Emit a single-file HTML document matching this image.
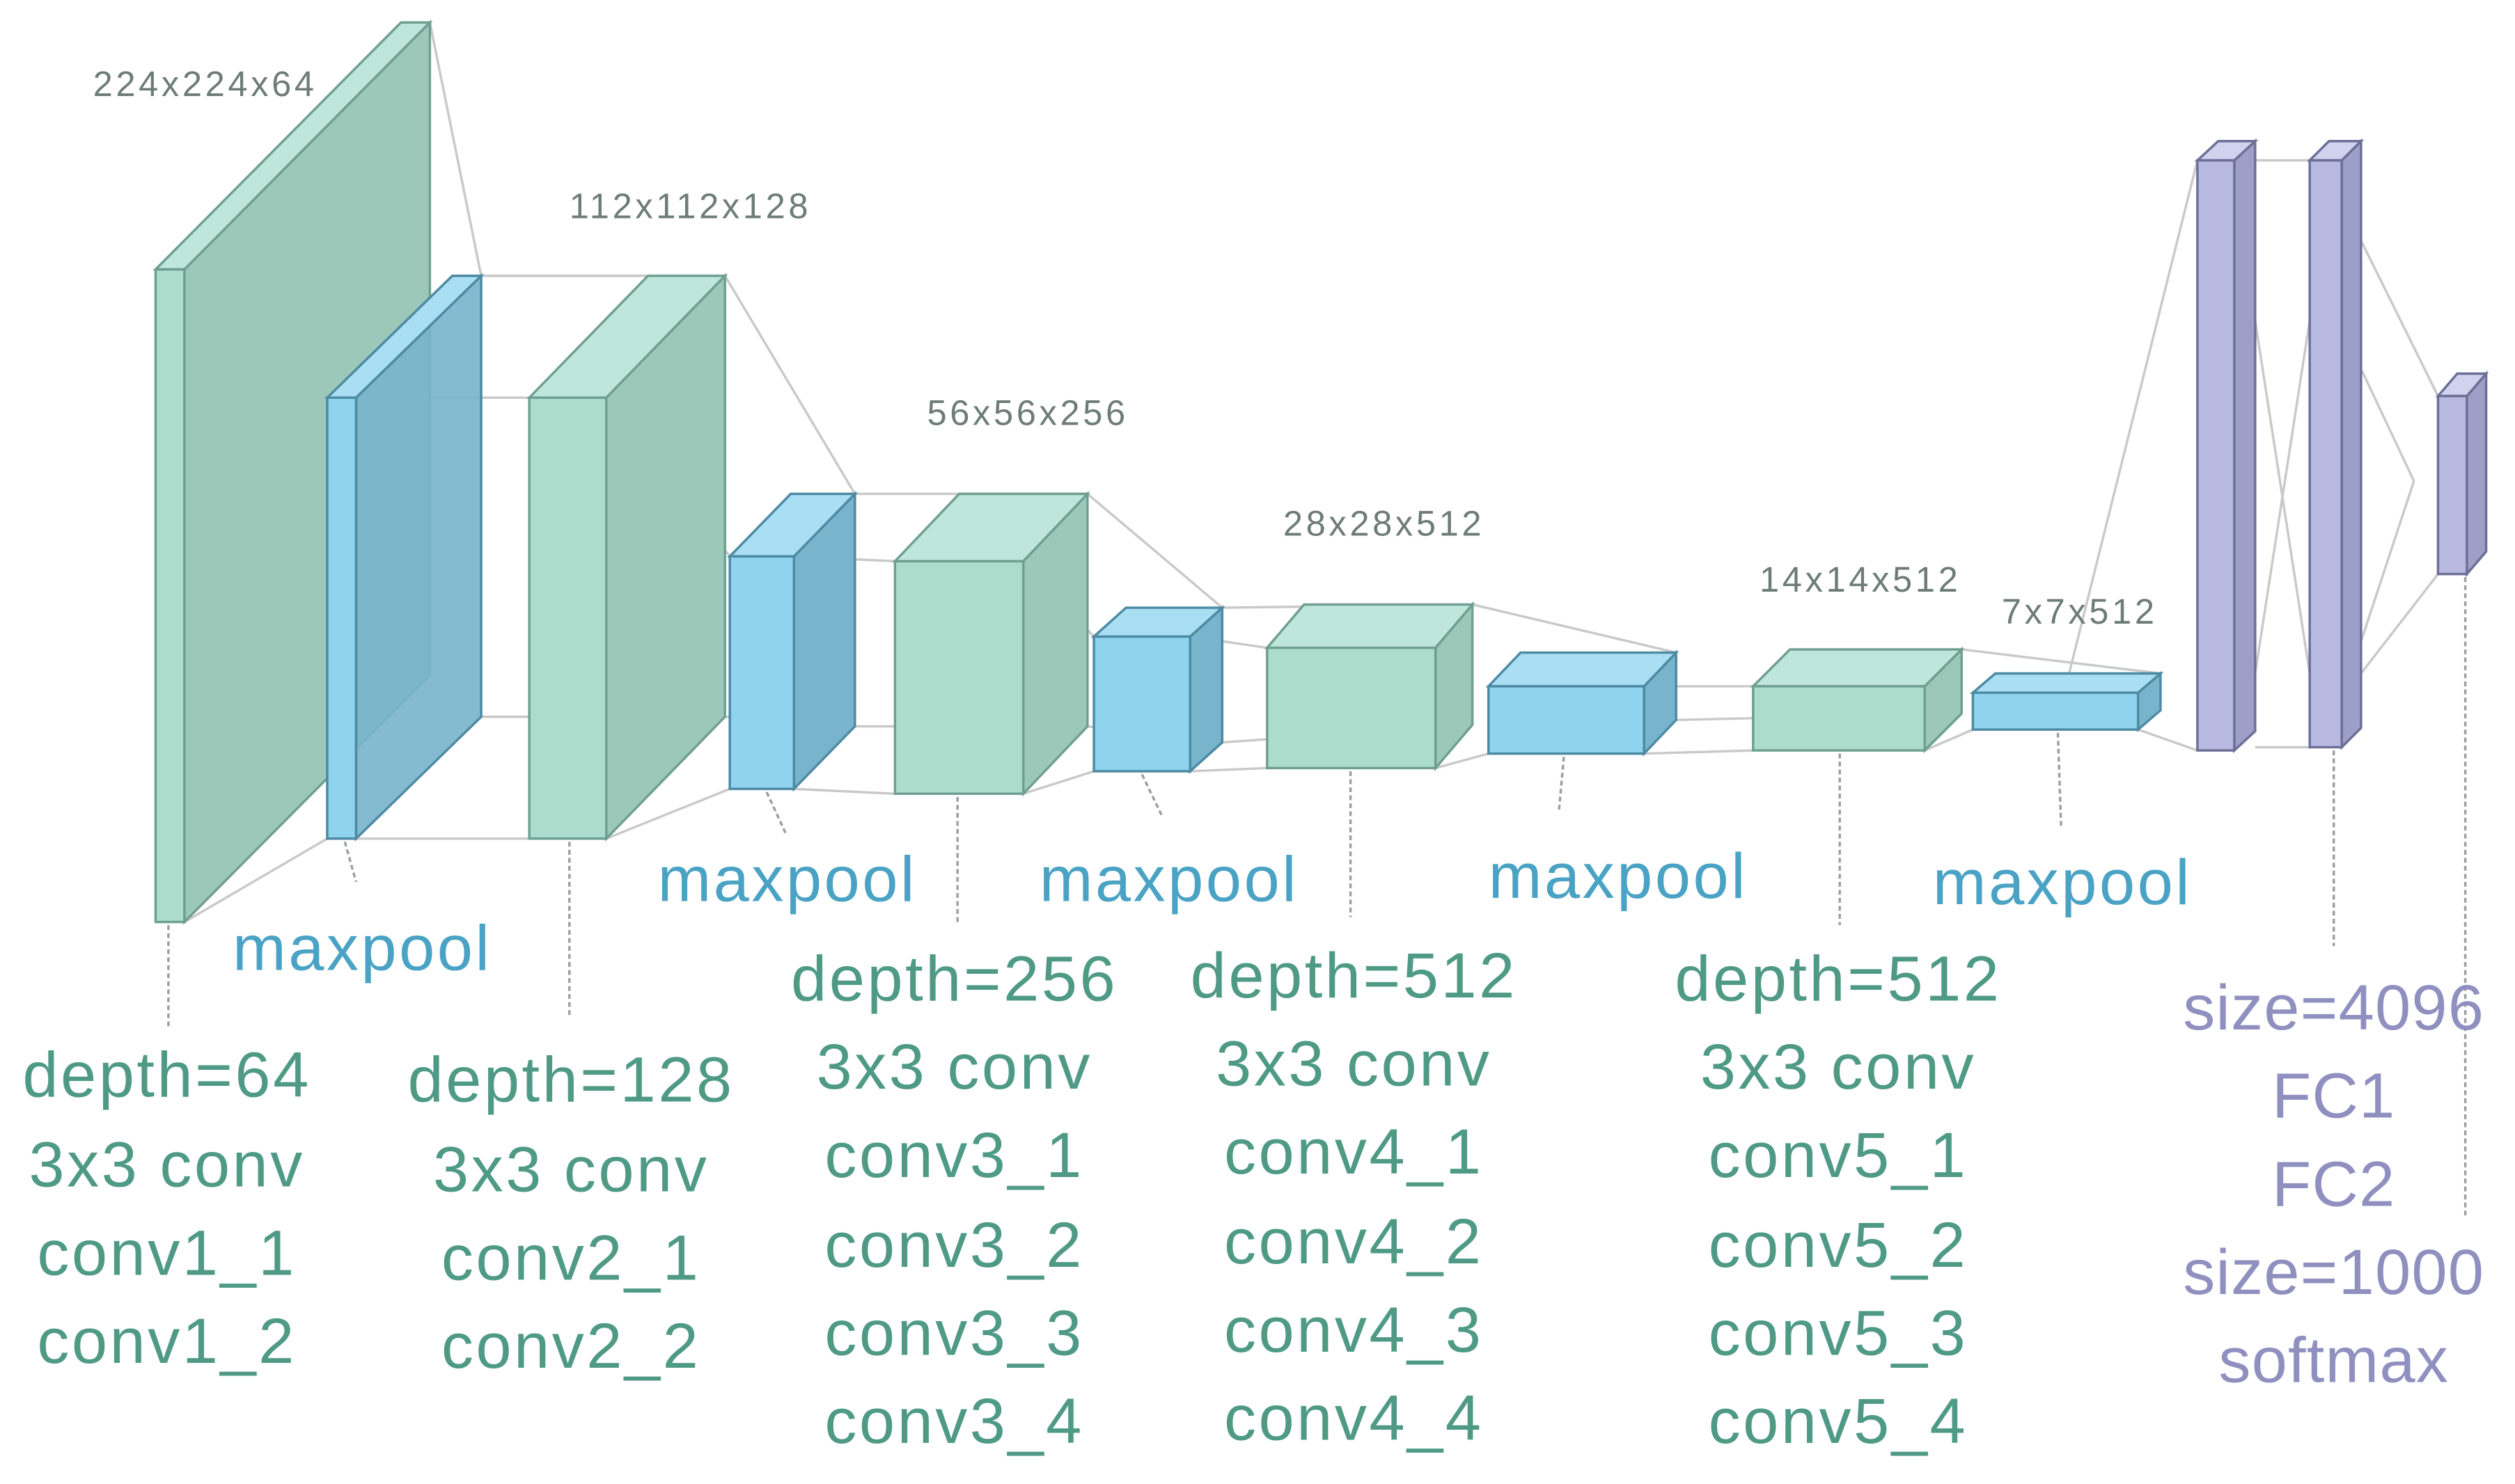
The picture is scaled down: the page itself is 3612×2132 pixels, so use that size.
<!DOCTYPE html>
<html><head><meta charset="utf-8"><style>html,body{margin:0;padding:0;background:#fff}svg{display:block}</style></head>
<body>
<svg width="3612" height="2132" viewBox="0 0 1568 925.5" xmlns="http://www.w3.org/2000/svg" font-family="Liberation Sans, DejaVu Sans, sans-serif">
<rect width="1568" height="926" fill="#fff"/>
<g stroke="#c9c9c9" stroke-width="1.5" fill="none">
<line x1="268" y1="14" x2="300" y2="172"/><line x1="115" y1="575" x2="204" y2="523"/>
<line x1="300" y1="172" x2="452" y2="172"/><line x1="222" y1="248" x2="330" y2="248"/><line x1="222" y1="523" x2="330" y2="523"/><line x1="300" y1="447" x2="452" y2="447"/>
<line x1="452" y1="172" x2="533" y2="308"/><line x1="378" y1="248" x2="455" y2="347"/><line x1="378" y1="523" x2="455" y2="492"/><line x1="452" y1="447" x2="533" y2="453"/>
<line x1="533" y1="308" x2="678" y2="308"/><line x1="495" y1="347" x2="558" y2="350"/><line x1="495" y1="492" x2="558" y2="495"/><line x1="533" y1="453" x2="678" y2="453"/>
<line x1="678" y1="308" x2="762" y2="379"/><line x1="638" y1="350" x2="682" y2="397"/><line x1="638" y1="495" x2="682" y2="481"/><line x1="678" y1="453" x2="762" y2="463"/>
<line x1="762" y1="379" x2="918" y2="377"/><line x1="742" y1="397" x2="790" y2="404"/><line x1="742" y1="481" x2="790" y2="479"/><line x1="762" y1="463" x2="918" y2="452"/>
<line x1="918" y1="377" x2="1045" y2="407"/><line x1="895" y1="479" x2="928" y2="470"/><line x1="1045" y1="449" x2="1223" y2="445"/><line x1="1025" y1="428" x2="1093" y2="428"/><line x1="1025" y1="470" x2="1093" y2="468"/>
<line x1="1223" y1="405" x2="1347" y2="420"/><line x1="1200" y1="468" x2="1230" y2="455"/>
<line x1="1290" y1="420" x2="1370" y2="100"/><line x1="1333" y1="455" x2="1370" y2="468"/>
<line x1="1406" y1="100" x2="1440" y2="100"/><line x1="1406" y1="466" x2="1440" y2="466"/><line x1="1406" y1="200" x2="1440" y2="420"/><line x1="1406" y1="420" x2="1440" y2="200"/>
<line x1="1472" y1="150" x2="1520" y2="247"/><line x1="1472" y1="420" x2="1520" y2="358"/><line x1="1472" y1="230" x2="1505" y2="300"/><line x1="1472" y1="400" x2="1505" y2="300"/>
</g>
<g stroke-width="1.5">
<g stroke="#6f9f90">
<polygon points="115,168 268,14 268,421 115,575" fill="#9cc8b9"/><polygon points="97,168 250,14 268,14 115,168" fill="#bfe6da"/><rect x="97" y="168" width="18" height="407" fill="#acdccc"/>
</g>
<g stroke="#4d8aa3">
<polygon points="222,248 300,172 300,447 222,523" fill="#78b4cc" fill-opacity="0.9"/><polygon points="204,248 282,172 300,172 222,248" fill="#a9def3"/><rect x="204" y="248" width="18" height="275" fill="#8fd3ee"/>
</g>
<g stroke="#6f9f90">
<polygon points="378,248 452,172 452,447 378,523" fill="#9cc8b9"/><polygon points="330,248 404,172 452,172 378,248" fill="#bfe6da"/><rect x="330" y="248" width="48" height="275" fill="#acdccc"/>
</g>
<g stroke="#4d8aa3">
<polygon points="495,347 533,308 533,453 495,492" fill="#78b4cc"/><polygon points="455,347 493,308 533,308 495,347" fill="#a9def3"/><rect x="455" y="347" width="40" height="145" fill="#8fd3ee"/>
</g>
<g stroke="#6f9f90">
<polygon points="638,350 678,308 678,453 638,495" fill="#9cc8b9"/><polygon points="558,350 598,308 678,308 638,350" fill="#bfe6da"/><rect x="558" y="350" width="80" height="145" fill="#acdccc"/>
</g>
<g stroke="#4d8aa3">
<polygon points="742,397 762,379 762,463 742,481" fill="#78b4cc"/><polygon points="682,397 702,379 762,379 742,397" fill="#a9def3"/><rect x="682" y="397" width="60" height="84" fill="#8fd3ee"/>
</g>
<g stroke="#6f9f90">
<polygon points="895,404 918,377 918,452 895,479" fill="#9cc8b9"/><polygon points="790,404 813,377 918,377 895,404" fill="#bfe6da"/><rect x="790" y="404" width="105" height="75" fill="#acdccc"/>
</g>
<g stroke="#4d8aa3">
<polygon points="1025,428 1045,407 1045,449 1025,470" fill="#78b4cc"/><polygon points="928,428 948,407 1045,407 1025,428" fill="#a9def3"/><rect x="928" y="428" width="97" height="42" fill="#8fd3ee"/>
</g>
<g stroke="#6f9f90">
<polygon points="1200,428 1223,405 1223,445 1200,468" fill="#9cc8b9"/><polygon points="1093,428 1116,405 1223,405 1200,428" fill="#bfe6da"/><rect x="1093" y="428" width="107" height="40" fill="#acdccc"/>
</g>
<g stroke="#4d8aa3">
<polygon points="1333,432 1347,420 1347,443 1333,455" fill="#78b4cc"/><polygon points="1230,432 1244,420 1347,420 1333,432" fill="#a9def3"/><rect x="1230" y="432" width="103" height="23" fill="#8fd3ee"/>
</g>
<g stroke="#6c6f96">
<polygon points="1393,100 1406,88 1406,456 1393,468" fill="#9d9fc8"/><polygon points="1370,100 1383,88 1406,88 1393,100" fill="#d0d2ee"/><rect x="1370" y="100" width="23" height="368" fill="#b7b9e0"/>
<polygon points="1460,100 1472,88 1472,454 1460,466" fill="#9d9fc8"/><polygon points="1440,100 1452,88 1472,88 1460,100" fill="#d0d2ee"/><rect x="1440" y="100" width="20" height="366" fill="#b7b9e0"/>
<polygon points="1538,247 1550,233 1550,344 1538,358" fill="#9d9fc8"/><polygon points="1520,247 1532,233 1550,233 1538,247" fill="#d0d2ee"/><rect x="1520" y="247" width="18" height="111" fill="#b7b9e0"/>
</g>
</g>
<g stroke="#9aa0a0" stroke-width="1.5" stroke-dasharray="3,2" fill="none">
<line x1="105" y1="577" x2="105" y2="640"/><line x1="215" y1="525" x2="222" y2="550"/>
<line x1="355" y1="525" x2="355" y2="635"/><line x1="478" y1="494" x2="490" y2="520"/>
<line x1="597" y1="497" x2="597" y2="575"/><line x1="712" y1="483" x2="725" y2="510"/>
<line x1="842" y1="481" x2="842" y2="572"/><line x1="975" y1="472" x2="972" y2="505"/>
<line x1="1147" y1="470" x2="1147" y2="577"/><line x1="1283" y1="457" x2="1285" y2="515"/>
<line x1="1455" y1="468" x2="1455" y2="590"/><line x1="1537" y1="360" x2="1537" y2="760"/>
</g>
<g fill="#6e7c78" font-size="22" letter-spacing="2">
<text x="58" y="60">224x224x64</text><text x="355" y="136">112x112x128</text><text x="578" y="265">56x56x256</text>
<text x="800" y="334">28x28x512</text><text x="1097" y="369">14x14x512</text><text x="1248" y="389">7x7x512</text>
</g>
<g fill="#4aa3c4" font-size="40" letter-spacing="1.5">
<text x="145" y="605">maxpool</text><text x="410" y="562">maxpool</text><text x="648" y="562">maxpool</text><text x="928" y="560">maxpool</text><text x="1205" y="564">maxpool</text>
</g>
<g fill="#4f9a85" font-size="40" letter-spacing="1.5" text-anchor="middle">
<text x="104" y="684">depth=64</text><text x="104" y="740">3x3 conv</text><text x="104" y="795">conv1_1</text><text x="104" y="850">conv1_2</text>
<text x="356" y="687">depth=128</text><text x="356" y="743">3x3 conv</text><text x="356" y="798">conv2_1</text><text x="356" y="853">conv2_2</text>
<text x="595" y="624">depth=256</text><text x="595" y="679">3x3 conv</text><text x="595" y="734">conv3_1</text><text x="595" y="790">conv3_2</text><text x="595" y="845">conv3_3</text><text x="595" y="900">conv3_4</text>
<text x="844" y="622">depth=512</text><text x="844" y="677">3x3 conv</text><text x="844" y="732">conv4_1</text><text x="844" y="788">conv4_2</text><text x="844" y="843">conv4_3</text><text x="844" y="898">conv4_4</text>
<text x="1146" y="624">depth=512</text><text x="1146" y="679">3x3 conv</text><text x="1146" y="734">conv5_1</text><text x="1146" y="790">conv5_2</text><text x="1146" y="845">conv5_3</text><text x="1146" y="900">conv5_4</text>
</g>
<g fill="#8f90bf" font-size="40" letter-spacing="0.5" text-anchor="middle">
<text x="1455" y="642">size=4096</text><text x="1455" y="697">FC1</text><text x="1455" y="752">FC2</text><text x="1455" y="807">size=1000</text><text x="1455" y="862">softmax</text>
</g>
</svg>
</body></html>
